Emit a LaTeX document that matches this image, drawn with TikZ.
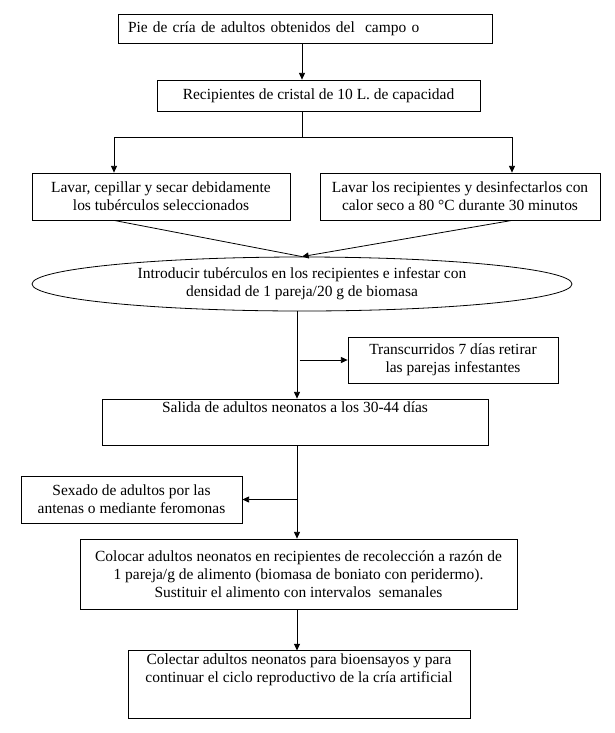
\documentclass[tikz,border=0pt]{standalone}
\usepackage{fontspec}
\setmainfont{Liberation Serif}
\usetikzlibrary{arrows.meta, shapes.geometric}

\begin{document}
\begin{tikzpicture}[
    x=0.75pt, y=-0.75pt,
    stepbox/.style={draw, line width=0.6pt, font=\fontsize{11.6}{13.4}\selectfont, align=center, inner sep=2pt},
    oval/.style={draw, ellipse, line width=0.6pt, font=\fontsize{11.6}{13.4}\selectfont, align=center, inner sep=0pt},
    arrow/.style={-{Triangle[length=5pt, width=4.5pt]}, line width=0.6pt},
    link/.style={line width=0.6pt}
]
    \useasboundingbox (0,0) rectangle (615,733);

    % Upper steps
    \node[stepbox, minimum width=280.5pt, minimum height=21.75pt, text width=265.5pt, align=left, inner xsep=7.5pt] (pie) at (305,28.5) {Pie de cría de adultos obtenidos del\ \ campo o};
    \node[stepbox, minimum width=242.25pt, minimum height=23.25pt] (recip) at (318.5,95.5) {Recipientes de cristal de 10 L. de capacidad};

    % Two preparations
    \node[stepbox, minimum width=193.5pt, minimum height=35.25pt] (lavar) at (161,196.5) {Lavar, cepillar y secar debidamente\\los tubérculos seleccionados};
    \node[stepbox, minimum width=210pt, minimum height=35.25pt] (desinf) at (460,196.5) {Lavar los recipientes y desinfectarlos con\\calor seco a 80 °C durante 30 minutos};

    % Infestation
    \node[oval, minimum width=405pt, minimum height=40.5pt] (intro) at (302,284) {Introducir tubérculos en los recipientes e infestar con\\densidad de 1 pareja/20 g de biomasa};
    \node[stepbox, minimum width=157.5pt, minimum height=34.5pt] (retiro) at (453,360) {Transcurridos 7 días retirar\\las parejas infestantes};

    % Adults
    \node[stepbox, minimum width=289.5pt, minimum height=34.5pt, text depth=22pt] (salida) at (295,422) {Salida de adultos neonatos a los 30-44 días};
    \node[stepbox, minimum width=165.75pt, minimum height=35.25pt] (sexo) at (131.5,499.5) {Sexado de adultos por las\\antenas o mediante feromonas};
    \node[stepbox, minimum width=327.75pt, minimum height=52.5pt] (colocar) at (298.5,574) {Colocar adultos neonatos en recipientes de recolección a razón de\\1 pareja/g de alimento (biomasa de boniato con peridermo).\\Sustituir\ el alimento con intervalos\ \ semanales};
    \node[stepbox, minimum width=256.5pt, minimum height=44.25pt, text depth=25pt] (colectar) at (299,684.5) {Colectar adultos neonatos para bioensayos y para\\continuar el ciclo reproductivo de la cría artificial};

    % Guide points
    \coordinate (top) at (302,0);
    \coordinate (split) at (302,137);
    \coordinate (splitL) at (114,137);
    \coordinate (splitR) at (512,137);
    \coordinate (ax) at (297,0);

    % Connections
    \draw[arrow] (pie.south -| top) -- (recip.north -| top);
    \draw[link] (recip.south -| top) -- (split);
    \draw[link] (splitL) -- (splitR);
    \draw[arrow] (splitL) -- (lavar.north -| splitL);
    \draw[arrow] (splitR) -- (desinf.north -| splitR);
    \draw[link] (lavar.south -| splitL) -- (intro.north);
    \draw[arrow] (desinf.south -| splitR) -- (intro.north);

    \draw[arrow] (intro.south -| ax) -- (salida.north -| ax);
    \draw[arrow] ([xshift=2pt]retiro.west -| ax) -- (retiro.west);
    \draw[arrow] (salida.south -| ax) -- (colocar.north -| ax);
    \draw[arrow] (sexo.east -| ax) -- (sexo.east);
    \draw[arrow] (colocar.south -| ax) -- (colectar.north -| ax);
\end{tikzpicture}
\end{document}
